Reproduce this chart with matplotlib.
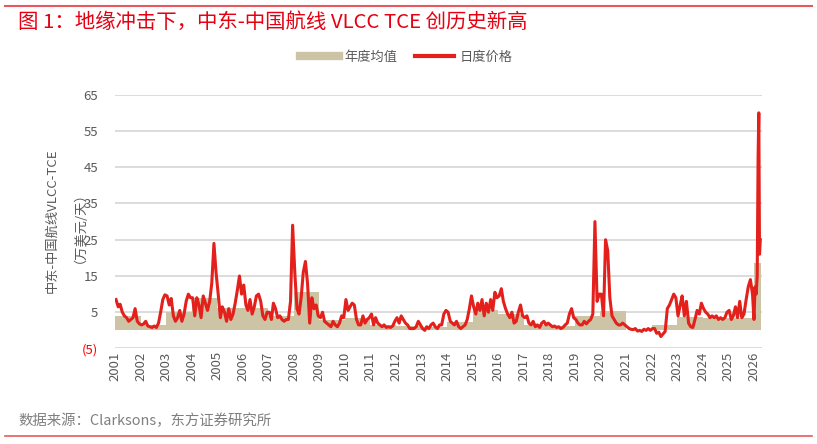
import matplotlib.pyplot as plt
from matplotlib.lines import Line2D
import pandas as pd

plt.rcParams['font.family'] = ['Noto Sans CJK SC', 'DejaVu Sans']

# annual average TCE (10k USD/day), one per year 2001..2026
years = list(range(2001, 2027))
annual_avg = [4.1, 1.4, 5.1, 8.8, 6.1, 6.3, 4.1, 10.6, 2.8, 3.3,
              1.4, 1.2, 1.0, 2.3, 5.5, 4.6, 1.4, 1.1, 3.9, 5.4,
              0.2, 1.4, 3.6, 3.5, 3.4, 18.6]

# month-by-month price, 2001-01 .. 2025-12
monthly_tce = [
    8.5, 6.5, 7.2, 5.0, 4.0, 3.5, 2.5, 3.0, 3.5, 6.0, 2.5, 1.8,   # 2001
    1.5, 1.8, 2.5, 1.2, 1.0, 0.8, 1.2, 0.8, 2.0, 5.0, 8.5, 9.8,   # 2002
    9.5, 7.0, 8.8, 4.0, 2.5, 3.5, 5.5, 2.5, 4.5, 8.0, 10.0, 9.0,  # 2003
    9.0, 4.0, 9.0, 7.0, 3.5, 9.5, 7.5, 5.5, 8.0, 13.0, 24.0, 16.0,  # 2004
    10.0, 3.5, 6.5, 5.0, 2.5, 6.0, 3.0, 4.5, 7.5, 11.0, 15.0, 10.0,  # 2005
    12.5, 7.0, 5.5, 8.5, 4.5, 6.5, 9.5, 10.0, 8.0, 4.0, 3.0, 5.0,  # 2006
    5.0, 3.0, 7.5, 6.0, 3.5, 4.0, 3.0, 2.5, 3.0, 3.0, 8.0, 29.0,  # 2007
    16.0, 6.0, 4.5, 9.0, 16.0, 19.0, 13.0, 2.0, 9.0, 6.0, 7.0, 4.0,  # 2008
    3.5, 5.0, 2.5, 2.0, 1.5, 1.0, 2.5, 1.5, 1.0, 2.0, 4.0, 3.5,   # 2009
    8.5, 5.5, 6.5, 7.5, 7.0, 3.0, 1.5, 1.5, 4.0, 2.0, 3.0, 3.5,   # 2010
    4.5, 1.5, 3.5, 2.0, 1.5, 1.0, 1.5, 0.8, 1.0, 0.8, 1.2, 2.5,   # 2011
    3.5, 2.0, 4.0, 3.0, 2.0, 1.5, 0.5, 0.5, 0.5, 1.0, 2.5, 1.5,   # 2012
    0.5, 0.0, 1.0, 0.5, 1.5, 2.0, 1.0, 0.5, 1.5, 1.5, 4.5, 5.5,   # 2013
    5.0, 2.5, 2.0, 1.5, 2.5, 1.0, 0.5, 1.0, 1.5, 3.0, 6.0, 9.5,   # 2014
    6.5, 4.5, 7.5, 5.5, 8.5, 4.0, 7.5, 5.0, 8.5, 5.5, 10.5, 9.0,  # 2015
    9.5, 11.5, 8.0, 6.0, 4.5, 3.5, 5.0, 2.0, 2.5, 5.0, 7.0, 4.0,  # 2016
    3.5, 4.0, 2.0, 1.5, 2.5, 1.0, 1.5, 0.8, 2.0, 2.5, 1.5, 2.0,   # 2017
    1.5, 1.0, 1.2, 0.8, 1.0, 0.5, 0.8, 1.5, 2.0, 4.5, 6.0, 3.5,   # 2018
    3.0, 2.0, 1.5, 1.5, 2.5, 1.8, 2.5, 3.0, 4.5, 30.0, 8.0, 10.0,  # 2019
    10.0, 4.0, 25.0, 22.0, 9.0, 4.0, 3.0, 2.0, 1.5, 1.5, 2.0, 1.5,  # 2020
    1.0, 0.5, 0.3, 0.2, 0.5, -0.2, 0.0, -0.3, 0.3, 0.0, 0.5, 0.0,  # 2021
    0.5, 0.5, -0.8, -0.5, -1.7, -1.0, -0.3, 6.0, 7.0, 8.5, 10.0, 9.0,  # 2022
    4.0, 7.0, 9.5, 4.0, 8.0, 2.0, 1.0, 0.8, 3.0, 5.5, 4.5, 7.5,   # 2023
    6.0, 5.0, 4.5, 3.5, 4.0, 3.5, 4.0, 3.0, 3.5, 3.0, 3.5, 5.0,   # 2024
    5.5, 3.0, 4.0, 6.5, 3.5, 8.0, 3.5, 4.5, 8.5, 12.0, 14.0, 10.0,  # 2025
]

# 2026, read at a finer step
tail_dates = ['2026-01-05', '2026-01-20', '2026-02-05', '2026-02-20',
              '2026-03-05', '2026-03-15', '2026-03-25', '2026-04-05']
tail_tce = [3.0, 12.0, 10.0, 15.0, 48.0, 60.0, 21.0, 25.0]

RED = '#E3201B'
TAN = '#CDC4A5'
GREY = '#595959'

month_dates = pd.date_range('2001-01-01', '2025-12-01', freq='MS') + pd.Timedelta(days=14)
dates = list(month_dates) + list(pd.to_datetime(tail_dates))
values = monthly_tce + tail_tce

edges = [pd.Timestamp(f'{y}-01-01') for y in years] + [pd.Timestamp('2026-04-10')]
avg_steps = annual_avg + [annual_avg[-1]]

fig = plt.figure(figsize=(8.17, 4.44), dpi=100)
ax = fig.add_axes([0.1408, 0.2151, 0.792, 0.5716])

ax.fill_between(edges, 0, avg_steps, step='post', color=TAN, lw=0, zorder=2)
ax.plot(dates, values, color=RED, lw=2.2, zorder=3)

ax.set_ylim(-5, 65)
ax.set_xlim(pd.Timestamp('2001-01-01'), pd.Timestamp('2026-05-01'))
yt = [-5, 5, 15, 25, 35, 45, 55, 65]
ax.set_yticks(yt)
ax.set_yticklabels(['(5)' if v < 0 else str(v) for v in yt])
for lab in ax.get_yticklabels():
    lab.set_color('red' if lab.get_text().startswith('(') else GREY)
ax.set_xticks([pd.Timestamp(f'{y}-01-01') for y in years])
ax.set_xticklabels([str(y) for y in years], rotation=90, color=GREY)
ax.tick_params(axis='y', length=0, pad=12, labelsize=9.5)
ax.tick_params(axis='x', length=0, pad=2, labelsize=9.5)
for s in ax.spines.values():
    s.set_visible(False)
ax.yaxis.grid(True, color='#D9D9D9', lw=1.3)
ax.set_axisbelow(True)

# y-axis title, two rotated lines
fig.text(52/817, 1 - 221/444, '中东-中国航线VLCC-TCE', rotation=90,
         ha='center', va='center', color=GREY, fontsize=9.5)
fig.text(73/817, 1 - 221/444, '（万美元/天）', rotation=90,
         ha='center', va='center', color=GREY, fontsize=9.5)

handles = [Line2D([], [], color=TAN, lw=6), Line2D([], [], color=RED, lw=3)]
fig.legend(handles, ['年度均值', '日度价格'], loc='center',
           bbox_to_anchor=(406/817, 1 - 57/444), ncol=2, frameon=False,
           fontsize=9.5, labelcolor=GREY, handlelength=3.0,
           handletextpad=0.4, columnspacing=1.3)

fig.text(18/817, 1 - 22/444, '图 1：地缘冲击下，中东-中国航线 VLCC TCE 创历史新高',
         color='#E60012', fontsize=14.7, ha='left', va='center')
fig.text(18/817, 1 - 421/444, '数据来源：Clarksons，东方证券研究所',
         color='#7F7F7F', fontsize=10.4, ha='left', va='center')

fig.add_artist(Line2D([5/817, 812/817], [1 - 6/444] * 2, color='#E9585E', lw=1.5))
fig.add_artist(Line2D([5/817, 812/817], [1 - 436/444] * 2, color='#E9585E', lw=1.2))

fig.savefig('out.png', dpi=100)
